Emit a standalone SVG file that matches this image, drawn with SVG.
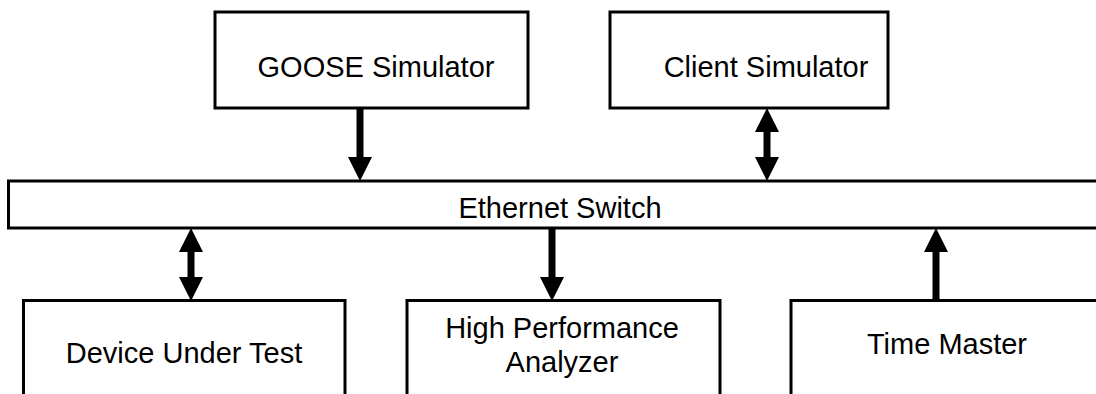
<svg xmlns="http://www.w3.org/2000/svg" width="1096" height="394" viewBox="0 0 1096 394">
  <style>
    .box { fill: #ffffff; stroke: #000000; stroke-width: 3; }
    .label { font-family: "Liberation Sans", Arial, sans-serif; font-size: 29px; fill: #000000; text-anchor: middle; }
    .link { stroke: #000000; stroke-width: 7; fill: none; }
  </style>
  <defs>
    <marker id="head" markerUnits="userSpaceOnUse" markerWidth="24" markerHeight="24" refX="0" refY="11.5" orient="auto-start-reverse" viewBox="0 0 23 23">
      <path d="M0,0 L23,11.5 L0,23 Z" fill="#000000"/>
    </marker>
  </defs>
  <rect width="1096" height="394" fill="#ffffff"/>

  <g id="goose-simulator">
    <rect class="box" x="215" y="12" width="313" height="96"/>
    <text class="label" x="376" y="77">GOOSE Simulator</text>
  </g>

  <g id="client-simulator">
    <rect class="box" x="610" y="12" width="278" height="96"/>
    <text class="label" x="766" y="77">Client Simulator</text>
  </g>

  <g id="ethernet-switch">
    <rect class="box" x="8.5" y="181" width="1100" height="47"/>
    <text class="label" x="560" y="218">Ethernet Switch</text>
  </g>

  <g id="device-under-test">
    <rect class="box" x="23.5" y="300.5" width="321.5" height="110"/>
    <text class="label" x="184" y="363">Device Under Test</text>
  </g>

  <g id="high-performance-analyzer">
    <rect class="box" x="407" y="300.5" width="313" height="110"/>
    <text class="label" x="562" y="338">High Performance</text>
    <text class="label" x="562" y="372">Analyzer</text>
  </g>

  <g id="time-master">
    <rect class="box" x="791" y="300.5" width="320" height="110"/>
    <text class="label" x="947" y="354">Time Master</text>
  </g>

  <g id="connectors">
    <!-- GOOSE Simulator to switch -->
    <line class="link" x1="360" y1="109" x2="360" y2="157" marker-end="url(#head)"/>
    <!-- Client Simulator to/from switch -->
    <line class="link" x1="767" y1="132" x2="767" y2="157" marker-start="url(#head)" marker-end="url(#head)"/>
    <!-- Device Under Test to/from switch -->
    <line class="link" x1="191" y1="252" x2="191" y2="277" marker-start="url(#head)" marker-end="url(#head)"/>
    <!-- Switch to analyzer -->
    <line class="link" x1="552" y1="229" x2="552" y2="277" marker-end="url(#head)"/>
    <!-- Time Master to switch -->
    <line class="link" x1="936" y1="252" x2="936" y2="299" marker-start="url(#head)"/>
  </g>
</svg>
